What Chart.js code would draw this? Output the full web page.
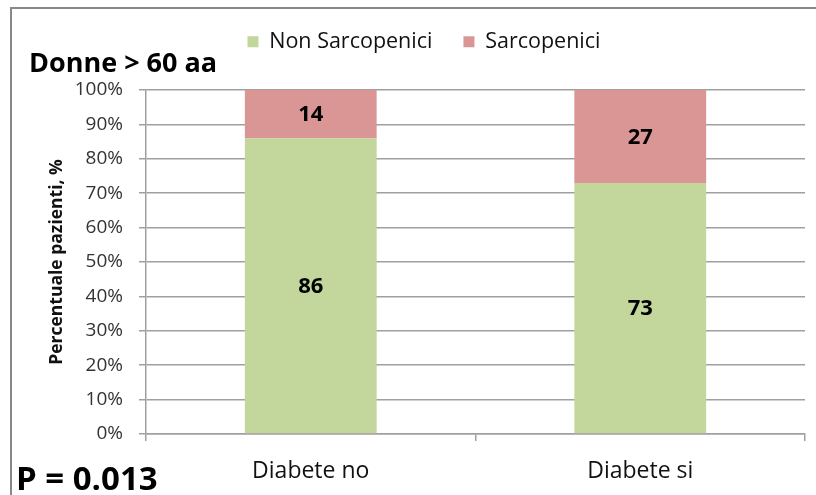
<!DOCTYPE html>
<html>
<head>
<meta charset="utf-8">
<script src="https://cdn.jsdelivr.net/npm/chart.js@4/dist/chart.umd.min.js"></script>
<style>
  html, body { margin: 0; padding: 0; background: #fff; }
  #wrap { position: relative; width: 816px; height: 495px; overflow: hidden; background: #fff; }
  #frame { position: absolute; left: 10px; top: 7px; width: 900px; height: 600px; border-left: 2px solid #898989; border-top: 2px solid #898989; box-sizing: border-box; }
  canvas { position: absolute; left: 0; top: 0; }
  .txt { position: absolute; font-family: "Open Sans", sans-serif; font-weight: bold; color: #000; white-space: nowrap; line-height: 1; }
  #title { left: 29px; top: 48px; font-size: 27px; }
  #pval { left: 16px; top: 461px; font-size: 33px; }
</style>
</head>
<body>
<div id="wrap">
  <div id="frame"></div>
  <canvas id="c" width="816" height="495"></canvas>
  <div class="txt" id="title">Donne &gt; 60 aa</div>
  <div class="txt" id="pval">P = 0.013</div>
</div>
<script>
const categories = ["Diabete no", "Diabete si"];
const seriesNames = ["Non Sarcopenici", "Sarcopenici"];
const nonSarcopenici = [86, 73];
const sarcopenici = [14, 27];
const yTicks = [0, 10, 20, 30, 40, 50, 60, 70, 80, 90, 100];

const FONT = "'Open Sans', sans-serif";
const PAD_LEFT = 43;
const AREA = { left: 146, right: 805, top: 90, bottom: 434 };

const valueLabels = {
  id: 'valueLabels',
  afterDatasetsDraw(chart) {
    const ctx = chart.ctx;
    ctx.save();
    ctx.font = "bold 22px " + FONT;
    ctx.fillStyle = '#000';
    ctx.textAlign = 'center';
    ctx.textBaseline = 'middle';
    chart.data.datasets.forEach((ds, i) => {
      const meta = chart.getDatasetMeta(i);
      meta.data.forEach((bar, j) => {
        const p = bar.getCenterPoint();
        ctx.fillText(String(ds.data[j]), p.x, p.y + 1);
      });
    });
    ctx.restore();
  }
};

const legendFix = {
  id: 'legendFix',
  beforeUpdate(chart) {
    const lg = chart.legend;
    if (lg && !lg._fixed) {
      const orig = lg.fit.bind(lg);
      lg.fit = function () { orig(); this.height = AREA.top; };
      lg._fixed = true;
    }
  }
};

new Chart(document.getElementById('c'), {
  type: 'bar',
  data: {
    labels: categories,
    datasets: [
      { label: seriesNames[0], data: nonSarcopenici, backgroundColor: '#C3D69B', borderWidth: 0 },
      { label: seriesNames[1], data: sarcopenici, backgroundColor: '#D99694', borderWidth: 0 }
    ]
  },
  options: {
    responsive: false,
    animation: false,
    devicePixelRatio: 1,
    layout: { padding: { left: PAD_LEFT, right: 816 - AREA.right, top: 0, bottom: 0 } },
    datasets: { bar: { categoryPercentage: 1.0, barPercentage: 0.4 } },
    plugins: {
      tooltip: { enabled: false },
      legend: {
        position: 'top',
        align: 'center',
        labels: {
          font: { family: FONT, size: 21.5 },
          color: '#111',
          boxWidth: 11,
          boxHeight: 11,
          padding: 31
        }
      }
    },
    scales: {
      x: {
        stacked: true,
        afterFit(s) { s.height = 495 - AREA.bottom; },
        grid: { drawOnChartArea: false, drawTicks: true, tickLength: 7, color: '#a0a0a0', lineWidth: 1.5, offset: true },
        border: { display: true, color: '#a0a0a0', width: 1.5 },
        ticks: { font: { family: FONT, size: 23 }, color: '#111', padding: 17 }
      },
      y: {
        stacked: true,
        min: 0,
        max: 100,
        afterFit(s) { s.width = AREA.left - PAD_LEFT; },
        afterBuildTicks(s) { s.ticks = yTicks.map(v => ({ value: v })); },
        grid: { color: '#a0a0a0', lineWidth: 1.5, tickLength: 7 },
        border: { display: true, color: '#a0a0a0', width: 1.5 },
        ticks: { font: { family: FONT, size: 19 }, color: '#333', padding: 16, callback: v => v + '%' },
        title: { display: true, text: 'Percentuale pazienti, %', font: { family: FONT, size: 17.5, weight: 'bold' }, color: '#111', padding: { top: 4, bottom: 4 } }
      }
    }
  },
  plugins: [valueLabels, legendFix]
});
</script>
</body>
</html>
